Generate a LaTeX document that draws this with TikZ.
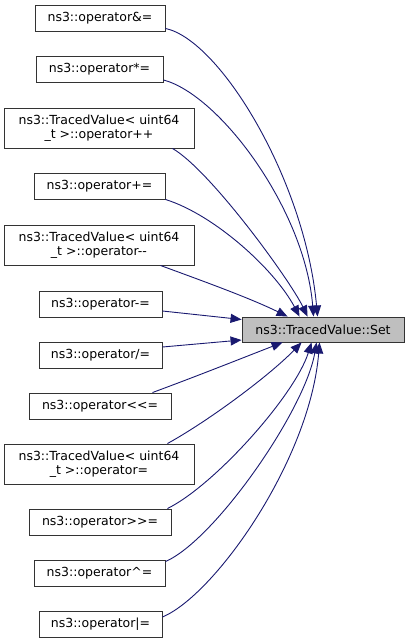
\documentclass[tikz,border=0pt]{standalone}
\usepackage{fontspec}
\setmainfont{DejaVu Sans}
\usetikzlibrary{arrows.meta,calc}
\definecolor{edgeblue}{HTML}{191970}
\definecolor{setgray}{HTML}{BFBFBF}
\begin{document}
\begin{tikzpicture}[x=1pt,y=-1pt,
  fn/.style={draw=black!80,line width=0.9pt,fill=white,inner sep=0pt,align=center,
    font=\fontsize{12.5}{14}\selectfont,minimum height=26},
  fntwo/.style={fn,minimum height=40,minimum width=190},
  edge/.style={draw=edgeblue,line width=0.9pt,-{Triangle[length=11,width=9]}}]
\useasboundingbox (0,0) rectangle (411,643);
\node[fn,minimum width=130] (a) at (100,18) {ns3::operator\&=};
\node[fn,minimum width=127] (b) at (99.5,69.5) {ns3::operator*=};
\node[fntwo] (c) at (99,128) {ns3::TracedValue< uint64\\\_t >::operator++};
\node[fn,minimum width=131] (d) at (99.5,186) {ns3::operator+=};
\node[fntwo] (e) at (99,245) {ns3::TracedValue< uint64\\\_t >::operator-{}-};
\node[fn,minimum width=123] (f) at (100.5,304) {ns3::operator-=};
\node[fn,minimum width=123] (g) at (100.5,355) {ns3::operator/=};
\node[fn,minimum width=142] (h) at (100,406) {ns3::operator<{}<=};
\node[fntwo] (i) at (99,464) {ns3::TracedValue< uint64\\\_t >::operator=};
\node[fn,minimum width=142] (j) at (100,522) {ns3::operator>{}>=};
\node[fn,minimum width=131] (k) at (99.5,573) {ns3::operator\^{}=};
\node[fn,minimum width=123] (l) at (100.5,624) {ns3::operator|=};
\node[fn,fill=setgray,minimum width=162,minimum height=25] (s) at (323,329.5) {ns3::TracedValue::Set};
% edges
\draw[edge] ($(a.south east)+(0,-3)$) .. controls (220,40) and (305,180) .. ($(s.north west)+(76,0)$);
\draw[edge] ($(b.south east)+(0,-3)$) .. controls (220,95) and (305,210) .. ($(s.north west)+(72,0)$);
\draw[edge] ($(c.south east)+(-22,0)$) .. controls (210,170) and (290,280) .. ($(s.north west)+(66,0)$);
\draw[edge] ($(d.south east)+(0,0)$) .. controls (215,215) and (275,270) .. ($(s.north west)+(58,0)$);
\draw[edge] ($(e.south east)+(-34,0)$) .. controls (200,280) and (250,298) .. ($(s.north west)+(46,0)$);
\draw[edge] ($(f.east)+(0,7)$) -- ($(s.west)+(0,-10)$);
\draw[edge] ($(g.east)+(0,-8)$) -- ($(s.west)+(0,10.5)$);
\draw[edge] ($(h.north east)+(-19,0)$) .. controls (200,375) and (250,355) .. ($(s.south west)+(41,0)$);
\draw[edge] ($(i.north east)+(-27,0)$) .. controls (210,420) and (270,375) .. ($(s.south west)+(60,0)$);
\draw[edge] ($(j.north east)+(-4,0)$) .. controls (215,485) and (295,395) .. ($(s.south west)+(70,0)$);
\draw[edge] ($(k.north east)+(0,2)$) .. controls (215,540) and (305,410) .. ($(s.south west)+(75,0)$);
\draw[edge] ($(l.east)+(0,-7)$) .. controls (215,595) and (310,460) .. ($(s.south west)+(78,0)$);
\end{tikzpicture}
\end{document}
